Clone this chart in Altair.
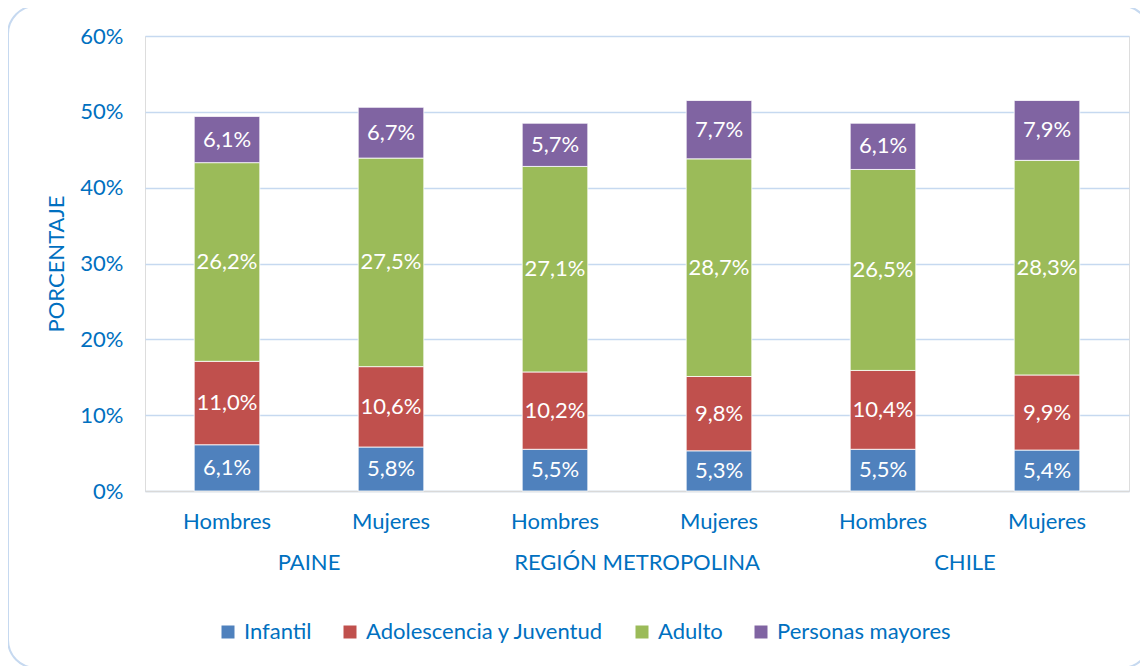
import altair as alt
import pandas as pd

groups = ["PAINE", "PAINE", "REGIÓN METROPOLINA", "REGIÓN METROPOLINA", "CHILE", "CHILE"]
sexes = ["Hombres", "Mujeres", "Hombres", "Mujeres", "Hombres", "Mujeres"]
series = ["Infantil", "Adolescencia y Juventud", "Adulto", "Personas mayores"]
colors = ["#4F81BD", "#C0504D", "#9BBB59", "#8064A2"]
infantil = [6.1, 5.8, 5.5, 5.3, 5.5, 5.4]
adolescencia = [11.0, 10.6, 10.2, 9.8, 10.4, 9.9]
adulto = [26.2, 27.5, 27.1, 28.7, 26.5, 28.3]
mayores = [6.1, 6.7, 5.7, 7.7, 6.1, 7.9]
y_ticks = [0, 10, 20, 30, 40, 50, 60]

FONT = "Lato"
BLUE = "#0070C0"
FS = 22
W, H = 984, 455

keys = [f"{g}|{s}" for g, s in zip(groups, sexes)]
rows = []
for si, (name, vals) in enumerate(zip(series, [infantil, adolescencia, adulto, mayores])):
    for k, v in zip(keys, vals):
        rows.append({"key": k, "serie": name, "order": si, "value": v,
                     "label": f"{v:.1f}%".replace(".", ",")})
df = pd.DataFrame(rows)

xscale = alt.Scale(domain=keys, paddingInner=0.6, paddingOuter=0.3)
base = alt.Chart(df).transform_stack(
    stack="value", as_=["y0", "y1"], groupby=["key"], sort=[alt.SortField("order")]
).transform_calculate(mid="(datum.y0 + datum.y1) / 2")

bars = base.mark_bar(stroke="white", strokeWidth=0.8).encode(
    x=alt.X("key:N", scale=xscale, sort=keys,
            axis=alt.Axis(title=None, labelExpr="split(datum.label, '|')[1]",
                          labelAngle=0, ticks=False, labelPadding=20,
                          labelColor=BLUE, labelFontSize=FS, labelFont=FONT,
                          domainColor="#D9D9D9", domainWidth=1.5, grid=False)),
    y=alt.Y("y0:Q", scale=alt.Scale(domain=[0, 60], nice=False),
            axis=alt.Axis(values=y_ticks, labelExpr="datum.value + '%'",
                          title="PORCENTAJE", titleColor=BLUE, titleFontSize=FS,
                          titleFont=FONT, titleFontWeight="normal", titlePadding=11,
                          labelColor=BLUE, labelFontSize=FS, labelFont=FONT,
                          ticks=False, labelPadding=22, domain=False,
                          gridColor="#C6D9F0", gridWidth=1.5)),
    y2="y1:Q",
    color=alt.Color("serie:N", scale=alt.Scale(domain=series, range=colors),
                    legend=alt.Legend(title=None, orient="none", direction="horizontal",
                                      legendX=72, legendY=585, symbolType="square",
                                      symbolSize=169, symbolStrokeWidth=0,
                                      labelColor=BLUE, labelFontSize=FS, labelFont=FONT,
                                      labelLimit=400, labelOffset=5, columnPadding=27)),
)

texts = base.mark_text(color="white", fontSize=FS, font=FONT, baseline="middle").encode(
    x=alt.X("key:N", scale=xscale, sort=keys),
    y=alt.Y("mid:Q"),
    text="label:N",
)

gdf = pd.DataFrame({"key": [keys[0], keys[2], keys[4]], "grp": [groups[0], groups[2], groups[4]]})
glabels = alt.Chart(gdf).mark_text(color=BLUE, fontSize=FS, font=FONT, dx=82,
                                   baseline="middle").encode(
    x=alt.X("key:N", scale=xscale, sort=keys),
    y=alt.value(H + 72),
    text="grp:N",
)

frame = alt.Chart(pd.DataFrame({"a": [0]})).mark_rect(
    fill=None, stroke="#C6D9F0", strokeWidth=2, cornerRadius=28
).encode(x=alt.value(-137), x2=alt.value(1005), y=alt.value(-30), y2=alt.value(632))

chart = alt.layer(frame, bars, texts, glabels).properties(
    width=W, height=H,
    autosize=alt.AutoSizeParams(type="none"),
    padding={"left": 137, "top": 28, "right": 11, "bottom": 200},
).configure_view(stroke="#A9C4EB", strokeWidth=1.5).configure(background="white")

chart.save("out.html", embed_options={"renderer": "svg", "actions": False})
